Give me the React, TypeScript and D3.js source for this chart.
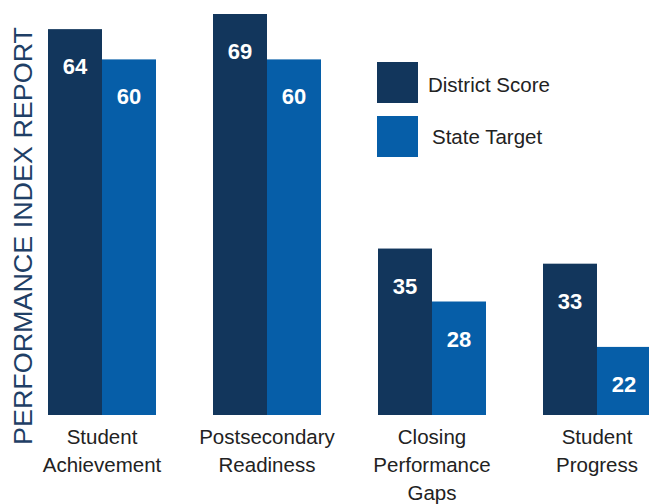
import React from "react";
import * as d3 from "d3";

const categories = [
  ["Student", "Achievement"],
  ["Postsecondary", "Readiness"],
  ["Closing", "Performance", "Gaps"],
  ["Student", "Progress"],
];
const districtScore = [64, 69, 35, 33];
const stateTarget = [60, 60, 28, 22];
const seriesNames = ["District Score", "State Target"];
const yTitle = "PERFORMANCE INDEX REPORT";

const W = 649;
const H = 504;
const COLORS = ["#12365c", "#065ea8"];

export default function App() {
  const keys = categories.map((c) => c.join(" "));
  const x = d3.scalePoint<string>().domain(keys).range([102, 597]);
  const inner = d3.scaleBand<string>().domain(seriesNames).range([-54, 54]);
  const y = d3.scaleLinear().domain([13, 66]).range([415, 14]).clamp(true);
  const font = "'Liberation Sans', Arial, Helvetica, sans-serif";
  const series = [districtScore, stateTarget];

  return (
    <svg
      width={W}
      height={H}
      style={{ position: "absolute", left: 0, top: 0, background: "#fff" }}
      fontFamily={font}
    >
      <text
        transform={`translate(32,236) rotate(-90)`}
        textAnchor="middle"
        fontSize={26}
        fill="#1f3f66"
        textLength={418}
        lengthAdjust="spacingAndGlyphs"
      >
        {yTitle}
      </text>
      {keys.map((k, i) => (
        <g key={k}>
          {series.map((vals, s) => {
            const bx = (x(k) as number) + (inner(seriesNames[s]) as number);
            const by = y(vals[i]);
            return (
              <g key={s}>
                <rect
                  x={bx}
                  y={by}
                  width={inner.bandwidth()}
                  height={y(13) - by}
                  fill={COLORS[s]}
                />
                <text
                  x={bx + inner.bandwidth() / 2}
                  y={by + 45}
                  textAnchor="middle"
                  fontSize={22}
                  fontWeight="bold"
                  fill="#fff"
                >
                  {vals[i]}
                </text>
              </g>
            );
          })}
          {categories[i].map((line, li) => (
            <text
              key={li}
              x={x(k) as number}
              y={444 + li * 28}
              textAnchor="middle"
              fontSize={20.5}
              fill="#222"
            >
              {line}
            </text>
          ))}
        </g>
      ))}
      {seriesNames.map((n, s) => (
        <g key={n}>
          <rect x={377} y={62 + s * 54} width={41} height={41} fill={COLORS[s]} />
          <text x={428 + s * 4} y={92 + s * 52} fontSize={20.5} fill="#222">
            {n}
          </text>
        </g>
      ))}
    </svg>
  );
}
